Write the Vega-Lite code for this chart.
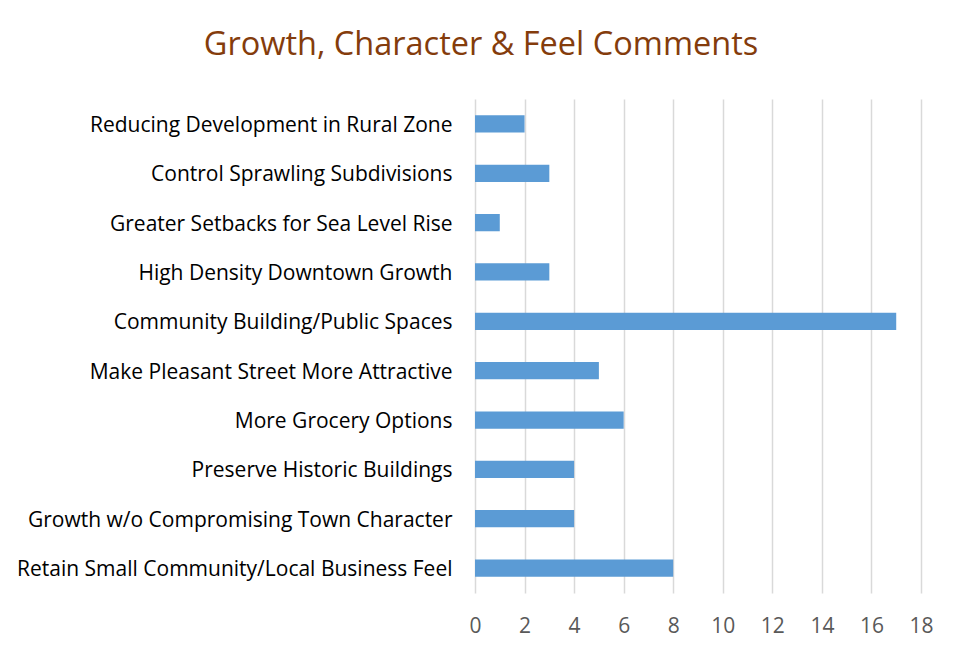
{
  "$schema": "https://vega.github.io/schema/vega-lite/v6.json",
  "autosize": "none",
  "width": 446,
  "height": 494,
  "padding": {"left": 475, "top": 99, "right": 42, "bottom": 62},
  "background": "white",
  "title": {
    "text": "Growth, Character & Feel Comments",
    "anchor": "middle",
    "frame": "group",
    "dx": -217,
    "offset": 38,
    "font": "Open Sans",
    "fontSize": 32.5,
    "fontWeight": "normal",
    "color": "#843C0C"
  },
  "data": {
    "values": [
      {"category": "Reducing Development in Rural Zone", "count": 2},
      {"category": "Control Sprawling Subdivisions ", "count": 3},
      {"category": "Greater Setbacks for Sea Level Rise", "count": 1},
      {"category": "High Density Downtown Growth", "count": 3},
      {"category": "Community Building/Public Spaces", "count": 17},
      {"category": "Make Pleasant Street More Attractive", "count": 5},
      {"category": "More Grocery Options", "count": 6},
      {"category": "Preserve Historic Buildings", "count": 4},
      {"category": "Growth w/o Compromising Town Character", "count": 4},
      {"category": "Retain Small Community/Local Business Feel", "count": 8}
    ]
  },
  "mark": {"type": "bar", "color": "#5B9BD5"},
  "encoding": {
    "y": {
      "field": "category",
      "type": "nominal",
      "sort": null,
      "scale": {"paddingInner": 0.65, "paddingOuter": 0.33},
      "axis": {
        "title": null,
        "domain": false,
        "ticks": false,
        "labelPadding": 23,
        "labelOffset": 2,
        "labelFont": "Open Sans",
        "labelFontSize": 21,
        "labelColor": "#000000",
        "labelLimit": 500
      }
    },
    "x": {
      "field": "count",
      "type": "quantitative",
      "scale": {"domain": [0, 18], "nice": false},
      "axis": {
        "title": null,
        "values": [0, 2, 4, 6, 8, 10, 12, 14, 16, 18],
        "domain": false,
        "ticks": false,
        "grid": true,
        "gridColor": "#D9D9D9",
        "gridWidth": 1.5,
        "labelFlush": false,
        "labelPadding": 22,
        "labelFont": "Open Sans",
        "labelFontSize": 21,
        "labelColor": "#595959"
      }
    }
  },
  "config": {"view": {"stroke": null}}
}
